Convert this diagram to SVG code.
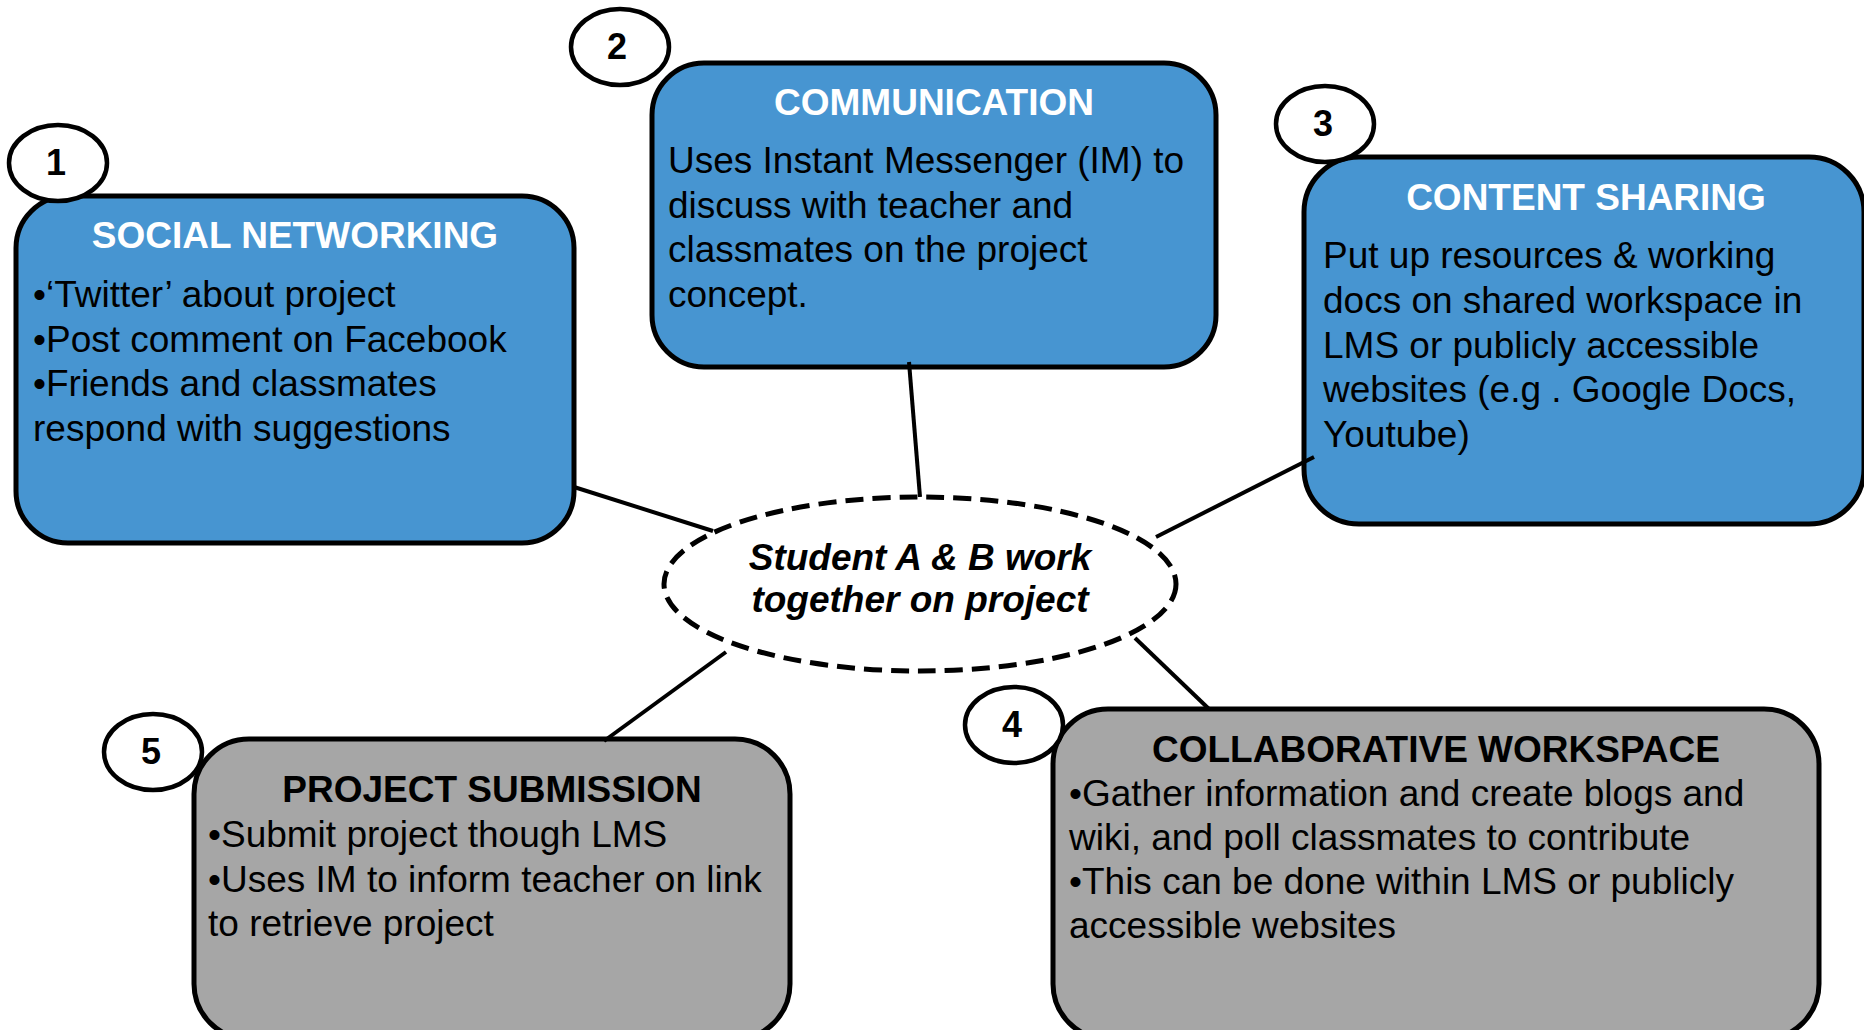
<svg xmlns="http://www.w3.org/2000/svg" width="1864" height="1030" viewBox="0 0 1864 1030">
<style>
.blue{fill:#4795d1;stroke:#000;stroke-width:5}
.gray{fill:#a6a6a6;stroke:#000;stroke-width:5}
.num{fill:#fff;stroke:#000;stroke-width:4.5}
.conn{stroke:#000;stroke-width:4;fill:none}
text{font-family:"Liberation Sans",Arial,sans-serif;font-size:37px}
.tw{font-weight:bold;fill:#fff;text-anchor:middle}
.tb{font-weight:bold;fill:#000;text-anchor:middle}
.body{fill:#000}
.n{font-weight:bold;font-size:36px;text-anchor:middle;fill:#000}
.center{font-weight:bold;font-style:italic;text-anchor:middle;fill:#000;font-size:37px}
</style>
<rect width="1864" height="1030" fill="#fff"/>

<g id="node-social">
<rect class="blue" x="16" y="196" width="558" height="347" rx="52" ry="52"/>
<text class="tw" x="295" y="248">SOCIAL NETWORKING</text>
<text class="body" x="33" y="307">•‘Twitter’ about project</text>
<text class="body" x="33" y="352">•Post comment on Facebook</text>
<text class="body" x="33" y="396">•Friends and classmates</text>
<text class="body" x="33" y="441">respond with suggestions</text>
</g>

<g id="node-communication">
<rect class="blue" x="652" y="63" width="564" height="304" rx="52" ry="52"/>
<text class="tw" x="934" y="115">COMMUNICATION</text>
<text class="body" x="668" y="173">Uses Instant Messenger (IM) to</text>
<text class="body" x="668" y="218">discuss with teacher and</text>
<text class="body" x="668" y="262">classmates on the project</text>
<text class="body" x="668" y="307">concept.</text>
</g>

<g id="node-content">
<rect class="blue" x="1304" y="157" width="560" height="367" rx="55" ry="55"/>
<text class="tw" x="1586" y="210">CONTENT SHARING</text>
<text class="body" x="1323" y="268">Put up resources &amp; working</text>
<text class="body" x="1323" y="313">docs on shared workspace in</text>
<text class="body" x="1323" y="358">LMS or publicly accessible</text>
<text class="body" x="1323" y="402">websites (e.g . Google Docs,</text>
<text class="body" x="1323" y="447">Youtube)</text>
</g>

<g id="node-collab">
<rect class="gray" x="1053" y="709" width="766" height="330" rx="55" ry="55"/>
<text class="tb" x="1436" y="762">COLLABORATIVE WORKSPACE</text>
<text class="body" x="1069" y="806">•Gather information and create blogs and</text>
<text class="body" x="1069" y="850">wiki, and poll classmates to contribute</text>
<text class="body" x="1069" y="894">•This can be done within LMS or publicly</text>
<text class="body" x="1069" y="938">accessible websites</text>
</g>

<g id="node-submission">
<rect class="gray" x="194" y="739" width="596" height="300" rx="55" ry="55"/>
<text class="tb" x="492" y="802">PROJECT SUBMISSION</text>
<text class="body" x="208" y="847">•Submit project though LMS</text>
<text class="body" x="208" y="892">•Uses IM to inform teacher on link</text>
<text class="body" x="208" y="936">to retrieve project</text>
</g>

<g id="connectors">
<line class="conn" x1="574" y1="487" x2="713" y2="531"/>
<line class="conn" x1="909" y1="362" x2="920" y2="497"/>
<line class="conn" x1="1156" y1="537" x2="1314" y2="457"/>
<line class="conn" x1="1135" y1="638" x2="1209" y2="709"/>
<line class="conn" x1="726" y1="652" x2="604" y2="741"/>
</g>

<g id="node-center">
<ellipse cx="920" cy="584" rx="256" ry="87" fill="#fff" stroke="#000" stroke-width="5" stroke-dasharray="18,9"/>
<text class="center" x="920" y="570">Student A &amp; B work</text>
<text class="center" x="920" y="612">together on project</text>
</g>

<g id="badge-1"><ellipse class="num" cx="58" cy="163" rx="49" ry="38"/><text class="n" x="56" y="175">1</text></g>
<g id="badge-2"><ellipse class="num" cx="620" cy="47" rx="49" ry="38"/><text class="n" x="617" y="59">2</text></g>
<g id="badge-3"><ellipse class="num" cx="1325" cy="124" rx="49" ry="38"/><text class="n" x="1323" y="136">3</text></g>
<g id="badge-4"><ellipse class="num" cx="1014" cy="725" rx="49" ry="38"/><text class="n" x="1012" y="737">4</text></g>
<g id="badge-5"><ellipse class="num" cx="153" cy="752" rx="49" ry="38"/><text class="n" x="151" y="764">5</text></g>
</svg>
